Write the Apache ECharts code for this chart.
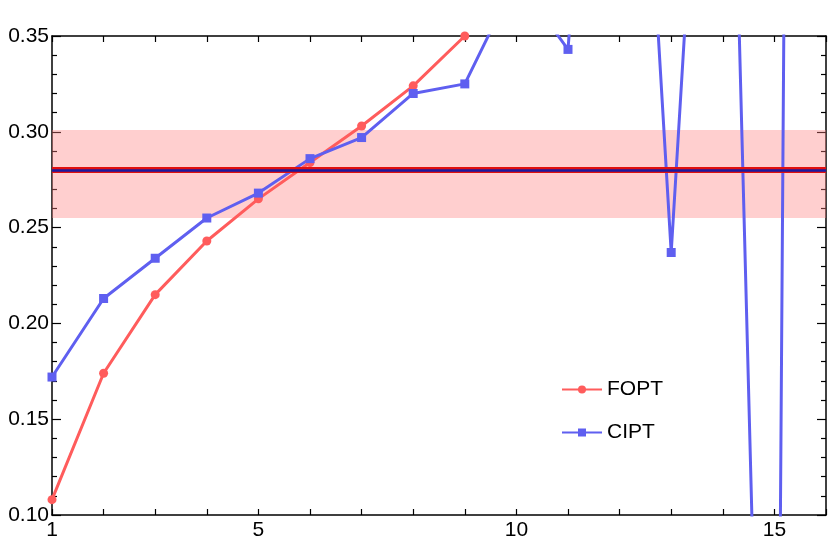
<!DOCTYPE html>
<html>
<head>
<meta charset="utf-8">
<script src="https://cdn.jsdelivr.net/npm/echarts@6/dist/echarts.min.js"></script>
<style>
  html, body { margin: 0; padding: 0; background: #fff; }
  #chart { width: 830px; height: 554px; }
</style>
</head>
<body>
<div id="chart"></div>
<script>
const xs = [1, 2, 3, 4, 5, 6, 7, 8, 9, 10, 11, 12, 13, 14, 15, 16];
const fopt = [0.108, 0.174, 0.215, 0.243, 0.265, 0.284, 0.303, 0.324, 0.350, 0.380];
const cipt = [0.172, 0.213, 0.234, 0.255, 0.268, 0.286, 0.297, 0.320, 0.325, 0.380, 0.343, 0.69, 0.237, 0.68, -0.35, 3.5];
const bandLow = 0.255, bandHigh = 0.301, centralValue = 0.2775;
const xLabels = [1, 5, 10, 15];

const pairs = (vals) => vals.map((v, i) => [xs[i], v]);
const font = 'Liberation Sans, Arial, sans-serif';

const chart = echarts.init(document.getElementById('chart'));
const axisLine = { show: true, lineStyle: { color: '#000', width: 1.5 } };
const option = {
  animation: false,
  grid: { left: 52, right: 4, top: 36, bottom: 39, show: false },
  legend: {
    left: 556, top: 374, orient: 'vertical', itemGap: 22, itemWidth: 40, itemHeight: 10,
    textStyle: { fontFamily: font, fontSize: 21, color: '#000' },
    data: ['FOPT', 'CIPT']
  },
  xAxis: [{
    type: 'value', min: 1, max: 16, interval: 1,
    axisLine: axisLine,
    axisTick: { inside: true, length: 6, lineStyle: { color: '#000', width: 1.2 } },
    axisLabel: { customValues: xLabels, color: '#000', fontFamily: font, fontSize: 21, margin: 5 },
    splitLine: { show: false }
  }, {
    type: 'value', position: 'top', min: 1, max: 16, interval: 1,
    axisLine: axisLine,
    axisTick: { inside: true, length: 6, lineStyle: { color: '#000', width: 1.2 } },
    axisLabel: { show: false }, splitLine: { show: false }
  }],
  yAxis: [{
    type: 'value', min: 0.1, max: 0.35, interval: 0.05,
    axisLine: axisLine,
    axisTick: { inside: true, length: 9, lineStyle: { color: '#000', width: 1.2 } },
    minorTick: { show: true, splitNumber: 5, length: 5, lineStyle: { color: '#000', width: 1.2 } },
    axisLabel: { color: '#000', fontFamily: font, fontSize: 21, margin: 3, formatter: v => v.toFixed(2) },
    splitLine: { show: false }
  }, {
    type: 'value', position: 'right', min: 0.1, max: 0.35, interval: 0.05,
    axisLine: axisLine,
    axisTick: { inside: true, length: 9, lineStyle: { color: '#000', width: 1.2 } },
    minorTick: { show: true, splitNumber: 5, length: 5, lineStyle: { color: '#000', width: 1.2 } },
    axisLabel: { show: false }, splitLine: { show: false }
  }],
  series: [
    {
      name: 'band', type: 'line', data: [], silent: true,
      markArea: {
        silent: true,
        itemStyle: { color: 'rgba(255,130,130,0.38)' },
        data: [[{ yAxis: bandLow }, { yAxis: bandHigh }]]
      },
      markLine: {
        silent: true, symbol: 'none', label: { show: false },
        data: [
          { yAxis: centralValue, lineStyle: { color: '#e01010', width: 6, type: 'solid' } },
          { yAxis: centralValue, lineStyle: { color: '#1a1aa0', width: 2.5, type: 'solid' } }
        ]
      }
    },
    {
      name: 'FOPT', type: 'line', data: pairs(fopt), clip: true,
      symbol: 'circle', symbolSize: 9,
      lineStyle: { color: '#ff5c5c', width: 3 },
      itemStyle: { color: '#ff5c5c' }
    },
    {
      name: 'CIPT', type: 'line', data: pairs(cipt), clip: true,
      symbol: 'rect', symbolSize: 9,
      lineStyle: { color: '#5f5ff0', width: 3 },
      itemStyle: { color: '#5f5ff0' }
    }
  ]
};
chart.setOption(option);
</script>
</body>
</html>
